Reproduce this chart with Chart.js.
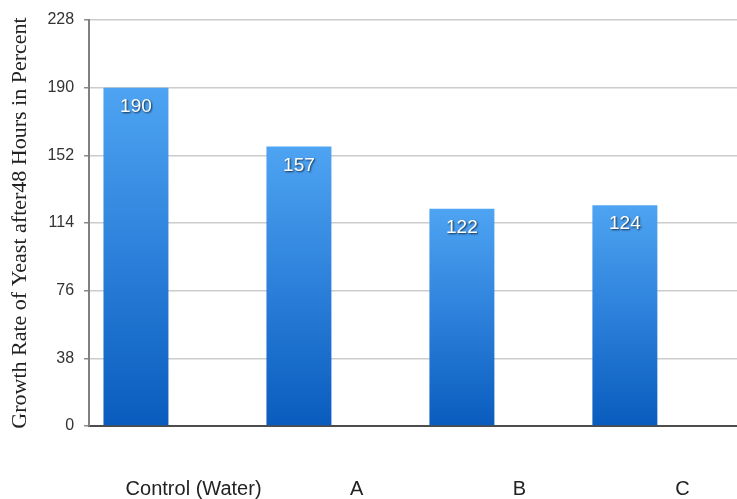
<!DOCTYPE html>
<html>
<head>
<meta charset="utf-8">
<script src="https://cdn.jsdelivr.net/npm/chart.js@4/dist/chart.umd.min.js"></script>
<style>
  html, body { margin: 0; padding: 0; background: #fff; overflow: hidden; }
  canvas { display: block; }
</style>
</head>
<body>
<canvas id="chart" width="741" height="499"></canvas>
<script>
( function () {
    'use strict';

    var categories = [ 'Control (Water)', 'A', 'B', 'C' ];
    var growthValues = [ 190, 157, 122, 124 ];
    var spacer = [ null, null, null, null ];
    var yTicks = [ 0, 38, 76, 114, 152, 190, 228 ];

    var sans = '"Liberation Sans", Arial, sans-serif';

    function barGradient( ctx ) {
        var chart = ctx.chart;
        if ( ! chart.chartArea || ctx.raw == null ) {
            return '#2a7fd8';
        }
        var y = chart.scales.y;
        var top = y.getPixelForValue( ctx.raw );
        var bottom = y.getPixelForValue( 0 );
        var g = chart.ctx.createLinearGradient( 0, top, 0, bottom );
        g.addColorStop( 0, '#4ea4f2' );
        g.addColorStop( 0.5, '#2c80da' );
        g.addColorStop( 1, '#095cbd' );
        return g;
    }

    /* ── value labels inside the bars ─────────────────────────────── */
    var valueLabels = {
        id: 'valueLabels',
        afterDatasetsDraw: function ( chart ) {
            var c = chart.ctx;
            var meta = chart.getDatasetMeta( 0 );
            c.save();
            c.font = '19px ' + sans;
            c.textAlign = 'center';
            c.textBaseline = 'middle';
            c.fillStyle = '#ffffff';
            c.shadowColor = 'rgba(0,0,0,.75)';
            c.shadowOffsetX = 1;
            c.shadowOffsetY = 1;
            c.shadowBlur = 2;
            meta.data.forEach( function ( bar, i ) {
                c.fillText( String( growthValues[ i ] ), bar.x, bar.y + 19 );
            } );
            c.restore();
        }
    };

    new Chart( document.getElementById( 'chart' ), {
        type: 'bar',
        data: {
            labels: categories,
            datasets: [ {
                label: 'Growth',
                data: growthValues,
                backgroundColor: barGradient,
                borderWidth: 0,
                categoryPercentage: 0.85,
                barPercentage: 0.938,
            }, {
                label: '',
                data: spacer,
                categoryPercentage: 0.85,
                barPercentage: 0.938,
            } ],
        },
        options: {
            responsive: false,
            animation: false,
            layout: { padding: { top: 20, left: 7, right: 0, bottom: 0 } },
            plugins: {
                legend: { display: false },
                tooltip: { enabled: false },
            },
            scales: {
                x: {
                    grid: { display: false, drawTicks: true, tickLength: 53 },
                    border: { display: true, color: '#4d4d4d', width: 2 },
                    ticks: {
                        color: '#222',
                        font: { family: sans, size: 20, lineHeight: 1 },
                        padding: 0,
                        labelOffset: 23,
                        maxRotation: 0,
                    },
                },
                y: {
                    min: 0,
                    max: 228,
                    afterBuildTicks: function ( axis ) {
                        axis.ticks = yTicks.map( function ( v ) { return { value: v }; } );
                    },
                    grid: { color: '#cccccc', lineWidth: 1.5, tickLength: 5, tickColor: '#888' },
                    border: { color: '#808080', width: 2 },
                    ticks: {
                        color: '#333',
                        font: { family: sans, size: 16 },
                        padding: 10,
                    },
                    title: {
                        display: true,
                        text: 'Growth Rate of Yeast after48 Hours in Percent',
                        color: '#222',
                        font: { family: '"Liberation Serif", "Times New Roman", serif', size: 22 },
                        padding: { top: 0, bottom: 4 },
                    },
                },
            },
        },
        plugins: [ valueLabels ],
    } );
} )();
</script>
</body>
</html>
